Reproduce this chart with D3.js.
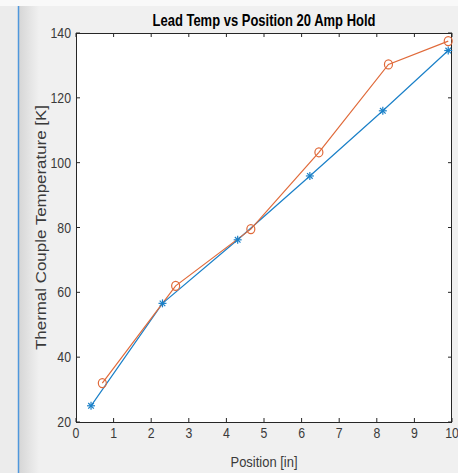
<!DOCTYPE html>
<html>
<head>
<meta charset="utf-8">
<script src="https://cdn.jsdelivr.net/npm/d3@7"></script>
<style>
  body { margin: 0; background: #f0f0f0; }
  svg { display: block; font-family: "Liberation Sans", Arial, sans-serif; }
</style>
</head>
<body>
<svg id="chart"></svg>
<script>
var width = 458;
var height = 473;

// thermocouple readings, two runs
var posA = [0.4, 2.3, 4.3, 6.22, 8.16, 9.9];
var tempA = [25, 56.6, 76.2, 95.9, 116, 134.6];
var posB = [0.7, 2.65, 4.65, 6.46, 8.31, 9.9];
var tempB = [32, 62, 79.5, 103.2, 130.3, 137.5];

var xTicks = [0, 1, 2, 3, 4, 5, 6, 7, 8, 9, 10];
var yTicks = [20, 40, 60, 80, 100, 120, 140];

var margin = { left: 76, top: 33, right: 6, bottom: 51 };

var svg = d3.select("#chart")
              .attr("width", width)
              .attr("height", height);

// window chrome: light band on top, blue edge line with a shadow on the left
var defs = svg.append("defs");
var grad = defs.append("linearGradient").attr("id", "shade");
grad.append("stop").attr("offset", "0%").attr("stop-color", "#d6d6d6");
grad.append("stop").attr("offset", "100%").attr("stop-color", "#f0f0f0");

svg.append("rect").attr("width", width).attr("height", height).attr("fill", "#f0f0f0");
svg.append("rect").attr("x", 0).attr("y", 0).attr("width", 18).attr("height", height).attr("fill", "#ececec");
svg.append("rect").attr("x", 19).attr("y", 6).attr("width", 20).attr("height", height).attr("fill", "url(#shade)");
svg.append("rect").attr("width", width).attr("height", 6).attr("fill", "#f9f9f9");
svg.append("line")
  .attr("x1", 18.5).attr("x2", 18.5).attr("y1", 6).attr("y2", height)
  .attr("stroke", "#4f97dc").attr("stroke-width", 1.5);

var x = d3.scaleLinear().domain([0, 10]).range([margin.left, width - margin.right]);
var y = d3.scaleLinear().domain([20, 140]).range([height - margin.bottom, margin.top]);

var x0 = x.range()[0], x1 = x.range()[1];
var y0 = y.range()[0], y1 = y.range()[1];

svg.append("rect")
  .attr("x", x0).attr("y", y1)
  .attr("width", x1 - x0).attr("height", y0 - y1)
  .attr("fill", "#ffffff");

// inward ticks on all four sides (matlab box)
var tickLen = 4;
var axisColor = "#262626";
var labelColor = "#3a3a3a";
var g = svg.append("g").attr("stroke", axisColor).attr("stroke-width", 1);

g.selectAll(".xb").data(xTicks).enter().append("line")
  .attr("x1", d => x(d)).attr("x2", d => x(d))
  .attr("y1", y0).attr("y2", y0 - tickLen);
g.selectAll(".xt").data(xTicks).enter().append("line")
  .attr("x1", d => x(d)).attr("x2", d => x(d))
  .attr("y1", y1).attr("y2", y1 + tickLen);
g.selectAll(".yl").data(yTicks).enter().append("line")
  .attr("x1", x0).attr("x2", x0 + tickLen)
  .attr("y1", d => y(d)).attr("y2", d => y(d));
g.selectAll(".yr").data(yTicks).enter().append("line")
  .attr("x1", x1).attr("x2", x1 - tickLen)
  .attr("y1", d => y(d)).attr("y2", d => y(d));

svg.append("rect")
  .attr("x", x0 + 0.5).attr("y", y1 + 0.5)
  .attr("width", x1 - x0 - 1).attr("height", y0 - y1)
  .attr("fill", "none").attr("stroke", axisColor).attr("stroke-width", 1);

// tick labels (the screenshot is squeezed sideways, so text is narrowed)
svg.selectAll(".xlab").data(xTicks).enter().append("text")
  .attr("transform", d => "translate(" + x(d) + "," + (y0 + 16) + ") scale(0.82,1)")
  .attr("text-anchor", "middle")
  .attr("font-size", 15)
  .attr("fill", labelColor)
  .text(d => d);

svg.selectAll(".ylab").data(yTicks).enter().append("text")
  .attr("transform", d => "translate(" + (x0 - 5) + "," + (y(d) + 5) + ") scale(0.82,1)")
  .attr("text-anchor", "end")
  .attr("font-size", 15)
  .attr("fill", labelColor)
  .text(d => d);

svg.append("text")
  .attr("x", (x0 + x1) / 2).attr("y", 26)
  .attr("text-anchor", "middle")
  .attr("font-size", 17).attr("font-weight", "bold")
  .attr("fill", "#000")
  .attr("textLength", 223).attr("lengthAdjust", "spacingAndGlyphs")
  .text("Lead Temp vs Position 20 Amp Hold");

svg.append("text")
  .attr("x", (x0 + x1) / 2).attr("y", 467)
  .attr("text-anchor", "middle")
  .attr("font-size", 15.5)
  .attr("fill", labelColor)
  .attr("textLength", 67).attr("lengthAdjust", "spacingAndGlyphs")
  .text("Position [in]");

svg.append("text")
  .attr("transform", "translate(46," + ((y0 + y1) / 2) + ") rotate(-90)")
  .attr("text-anchor", "middle")
  .attr("font-size", 15)
  .attr("fill", labelColor)
  .attr("textLength", 245).attr("lengthAdjust", "spacingAndGlyphs")
  .text("Thermal Couple Temperature [K]");

// series
var blue = "#1a80c8";
var orange = "#e06a3a";

var seriesA = posA.map((p, i) => ({ x: p, y: tempA[i] }));
var seriesB = posB.map((p, i) => ({ x: p, y: tempB[i] }));

var line = d3.line().x(d => x(d.x)).y(d => y(d.y));

svg.append("path").datum(seriesA)
  .attr("d", line).attr("fill", "none")
  .attr("stroke", blue).attr("stroke-width", 1.2);

svg.append("path").datum(seriesB)
  .attr("d", line).attr("fill", "none")
  .attr("stroke", orange).attr("stroke-width", 1.2);

// asterisk markers
var r = 4;
var stars = svg.selectAll(".star").data(seriesA).enter().append("g")
  .attr("transform", d => "translate(" + x(d.x) + "," + y(d.y) + ")")
  .attr("stroke", blue).attr("stroke-width", 1.2);
stars.append("line").attr("x1", -r).attr("x2", r).attr("y1", 0).attr("y2", 0);
stars.append("line").attr("x1", 0).attr("x2", 0).attr("y1", -r).attr("y2", r);
stars.append("line").attr("x1", -r * 0.7).attr("x2", r * 0.7).attr("y1", -r * 0.7).attr("y2", r * 0.7);
stars.append("line").attr("x1", -r * 0.7).attr("x2", r * 0.7).attr("y1", r * 0.7).attr("y2", -r * 0.7);

// circle markers
svg.selectAll(".circ").data(seriesB).enter().append("ellipse")
  .attr("cx", d => x(d.x)).attr("cy", d => y(d.y))
  .attr("rx", 4).attr("ry", 4.5)
  .attr("fill", "none")
  .attr("stroke", orange).attr("stroke-width", 1.2);
</script>
</body>
</html>
